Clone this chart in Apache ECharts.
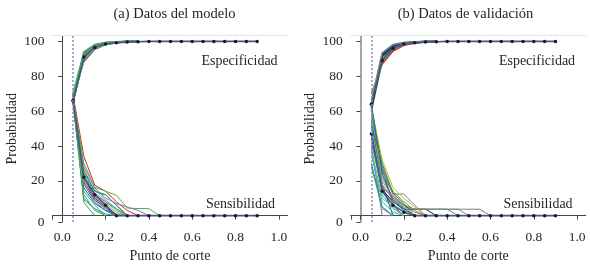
<!DOCTYPE html>
<html>
<head>
<meta charset="utf-8">
<script src="https://cdn.jsdelivr.net/npm/echarts@6/dist/echarts.min.js"></script>
<style>
  html, body { margin: 0; padding: 0; background: #fff; }
  #main { width: 590px; height: 268px; }
</style>
</head>
<body>
<div id="main"></div>
<script>
// puntos de corte 0.05 .. 0.90
var cuts = [0.05, 0.10, 0.15, 0.20, 0.25, 0.30, 0.35, 0.40, 0.45, 0.50, 0.55, 0.60, 0.65, 0.70, 0.75, 0.80, 0.85, 0.90];
var xTicks = [0, 0.2, 0.4, 0.6, 0.8, 1.0];
var yTicks = [20, 40, 60, 80, 100];
var titles = ['(a) Datos del modelo', '(b) Datos de validación'];

// linea principal (con puntos)
var mainSpecA = [66, 91, 96.5, 98.5, 99.2, 99.6, 99.8, 100, 100, 100, 100, 100, 100, 100, 100, 100, 100, 100];
var mainSensA = [66, 22, 12, 6, 0, 0, 0, 0, 0, 0, 0, 0, 0, 0, 0, 0, 0, 0];
var mainSpecB = [64, 89, 96, 98.5, 99.2, 99.6, 99.8, 100, 100, 100, 100, 100, 100, 100, 100, 100, 100, 100];
var mainSensB = [47, 14, 6, 2, 0, 0, 0, 0, 0, 0, 0, 0, 0, 0, 0, 0, 0, 0];

var palette = ['#d62728', '#4daf4a', '#1f5fbf', '#3c9a5c', '#9467bd', '#17becf', '#5cb85c', '#222222',
               '#bcbd22', '#2e8b57', '#2b3a8c', '#7f7f7f', '#6cc04a', '#20a39e', '#e04848', '#48a860'];

// iteraciones, modelo
var specA = [
  [70, 88.5, 95.5, 98.2, 99.3, 99.8, 100],
  [66, 90, 96, 98.5, 99.4, 99.9, 100],
  [67, 91.5, 96.8, 98.6, 99.4, 99.8, 100],
  [65, 90.5, 96.2, 98.4, 99.3, 99.8, 100],
  [68, 92, 97, 98.8, 99.5, 100, 100],
  [66, 89.5, 95.8, 98.3, 99.3, 99.8, 100],
  [67, 91, 96.5, 98.6, 99.4, 99.9, 100],
  [69, 92.5, 97.2, 98.9, 99.5, 100, 100],
  [66, 90.8, 96.4, 98.7, 99.5, 99.9, 100],
  [65, 91.8, 97, 98.9, 99.6, 100, 100],
  [68, 93, 97.6, 99.1, 99.7, 100, 100],
  [66, 92.2, 97.3, 99, 99.6, 100, 100],
  [71, 93.5, 97.8, 99.2, 99.7, 100, 100],
  [67, 93.2, 97.9, 99.3, 99.8, 100, 100],
  [66, 93.8, 98, 99.3, 99.8, 100, 100],
  [68, 94, 98.2, 99.4, 99.8, 100, 100]
];
var sensA = [
  [69, 34, 17.5, 14, 8, 3, 0],
  [67, 26, 14, 12, 6, 0],
  [66, 18, 8, 3, 0],
  [66, 20, 9, 4, 0],
  [66, 28, 16, 10, 7, 5, 3, 0],
  [64, 14, 6, 0],
  [67, 24, 12, 7, 2, 0],
  [66, 22, 14, 12, 6, 0],
  [65, 10, 4, 1, 0],
  [66, 22, 10, 5, 0],
  [68, 26, 12, 8, 3, 0],
  [66, 16, 7, 3, 0],
  [67, 21, 13, 8, 4, 0],
  [65, 18, 9, 5, 0],
  [66, 24, 15, 9, 4, 0],
  [64, 9, 4, 0],
  [67, 30, 16.3, 14, 11.7, 4.3, 4.1, 4, 0],
  [66, 7.5, 0],
  [66, 19, 11, 5, 1, 0],
  [65, 12, 3, 0]
];
var sensAColors = ['#d62728', '#222222', '#4daf4a', '#1f5fbf', '#9467bd', '#17becf', '#bcbd22', '#3c9a5c',
                   '#20a39e', '#2b3a8c', '#5cb85c', '#1f5fbf', '#a05da5', '#e04848', '#17becf', '#6cc04a',
                   '#4daf4a', '#3c9a5c', '#7f7f7f', '#48a860'];

// iteraciones, validación
var specB = [
  [70, 87, 94.5, 97.8, 99, 99.7, 100],
  [62, 88.5, 95.5, 98.2, 99.2, 99.8, 100],
  [64, 90, 96.5, 98.5, 99.3, 99.8, 100],
  [60, 89, 96, 98.4, 99.3, 99.8, 100],
  [66, 91, 97, 98.8, 99.5, 99.9, 100],
  [63, 90.5, 96.8, 98.7, 99.4, 99.9, 100],
  [65, 92, 97.4, 99, 99.6, 100, 100],
  [61, 91.5, 97.2, 98.9, 99.5, 100, 100],
  [67, 92.8, 97.8, 99.2, 99.7, 100, 100],
  [64, 93, 98, 99.3, 99.8, 100, 100],
  [62, 92.5, 97.6, 99.1, 99.7, 100, 100],
  [65, 93.5, 98.2, 99.4, 99.8, 100, 100]
];
var sensB = [
  [63, 28, 6, 0],
  [58, 25, 14, 8, 3, 0],
  [55, 28, 12.4, 12.4, 6, 0],
  [50, 12, 4, 0],
  [40, 0, 0],
  [52, 22, 10, 6, 3.7, 3.7, 3.7, 3.7, 3.7, 3.7, 3.7, 0],
  [46, 15, 8, 3.7, 3.7, 3.7, 0],
  [42, 14, 8, 3, 0],
  [55, 18, 0],
  [60, 26, 12, 6, 3.7, 3.7, 3.7, 3.7, 0],
  [62, 32, 16, 10, 5, 0],
  [35, 8, 2, 0],
  [30, 5, 0],
  [48, 18, 9, 5, 3.7, 3.7, 3.7, 3.7, 3.7, 0],
  [56, 20, 10, 5, 0],
  [38, 10, 5, 0],
  [64, 24, 9, 4, 0],
  [44, 16, 11, 6, 2, 0],
  [52, 30, 13, 7, 0],
  [28, 4, 0]
];
var sensBColors = ['#d62728', '#4daf4a', '#9467bd', '#17becf', '#9467bd', '#7f7f7f', '#222222', '#20a39e',
                   '#2b3a8c', '#3c9a5c', '#bcbd22', '#17becf', '#1f5fbf', '#8a8a8a', '#5cb85c', '#6cc04a',
                   '#1f5fbf', '#e04848', '#2e8b57', '#48a860'];

var chart = echarts.init(document.getElementById('main'), null, { renderer: 'canvas' });
var font = 'Liberation Serif';
var textColor = '#262626';

function pairs(vals) {
  return vals.map(function (v, i) { return [cuts[i], v]; });
}

var grids = [
  { left: 52.5, top: 35.5, width: 235, height: 193 },
  { left: 350.8, top: 35.5, width: 235, height: 193 }
];

var xAxes = [], yAxes = [], series = [];
for (var g = 0; g < 2; g++) {
  xAxes.push({
    type: 'value', gridIndex: g, min: -0.045, max: 1.04,
    name: 'Punto de corte', nameLocation: 'middle', nameGap: 25,
    nameTextStyle: { fontFamily: font, fontSize: 14, color: textColor },
    axisLine: { lineStyle: { color: '#444', width: 1 } },
    axisTick: { show: true, length: 4, customValues: [-0.045].concat(xTicks), lineStyle: { color: '#444' } },
    axisLabel: {
      customValues: xTicks, fontFamily: font, fontSize: 13.5, color: textColor, margin: 8,
      formatter: function (v) { return v.toFixed(1); }
    },
    splitLine: { show: false }
  });
  // borde superior
  xAxes.push({
    type: 'value', gridIndex: g, position: 'top', min: -0.045, max: 1.04,
    axisLine: { show: true, lineStyle: { color: '#e4e4e4', width: 1 } },
    axisTick: { show: false }, axisLabel: { show: false }, splitLine: { show: false }
  });
  yAxes.push({
    type: 'value', gridIndex: g, min: -3.7, max: 103.4,
    name: 'Probabilidad', nameLocation: 'middle', nameGap: 33,
    nameTextStyle: { fontFamily: font, fontSize: 14, color: textColor },
    axisLine: { show: true, lineStyle: { color: g === 0 ? '#444' : '#888', width: g === 0 ? 1 : 1.5 } },
    axisTick: { show: true, length: 4, customValues: [-3.7].concat(yTicks), lineStyle: { color: '#444' } },
    axisLabel: {
      customValues: [-3.7].concat(yTicks), fontFamily: font, fontSize: 13.5, color: textColor, margin: 8,
      formatter: function (v) { return v < 0 ? '0' : String(v); }
    },
    splitLine: { show: false }
  });
}

function addLines(list, g, width, colors) {
  list.forEach(function (vals, i) {
    series.push({
      type: 'line', xAxisIndex: g * 2, yAxisIndex: g, data: pairs(vals),
      showSymbol: false, silent: true, animation: false,
      lineStyle: { color: colors[i % colors.length], width: width }
    });
  });
}
addLines(specA, 0, 1.5, palette);
addLines(sensA, 0, 1, sensAColors);
addLines(specB, 1, 1.5, palette);
addLines(sensB, 1, 1, sensBColors);

function addMain(vals, g, withMark) {
  var s = {
    type: 'line', xAxisIndex: g * 2, yAxisIndex: g, data: pairs(vals),
    symbol: 'circle', symbolSize: 3.5, showSymbol: true, animation: false,
    lineStyle: { color: '#46558f', width: 1.6 },
    itemStyle: { color: '#1a1a2a' }
  };
  if (withMark) {
    s.markLine = {
      silent: true, symbol: 'none', label: { show: false }, animation: false,
      lineStyle: { type: [2, 2], color: '#8a8fc4', width: 1.5 },
      data: [{ xAxis: 0.05 }]
    };
  }
  series.push(s);
}
addMain(mainSensA, 0, true);
addMain(mainSpecA, 0, false);
addMain(mainSensB, 1, true);
addMain(mainSpecB, 1, false);

function label(text, x, y, size) {
  return {
    type: 'text', x: x, y: y,
    style: { text: text, fontFamily: font, fontSize: size, fill: textColor, align: 'center', verticalAlign: 'middle' }
  };
}

chart.setOption({
  animation: false,
  grid: grids,
  xAxis: xAxes,
  yAxis: yAxes,
  series: series,
  graphic: [
    label(titles[0], 174.5, 14, 14.5),
    label(titles[1], 465.5, 14, 14.5),
    label('Especificidad', 239.5, 61, 14),
    label('Sensibilidad', 240.5, 204, 14),
    label('Especificidad', 537, 61, 14),
    label('Sensibilidad', 538, 204, 14)
  ]
});
</script>
</body>
</html>
